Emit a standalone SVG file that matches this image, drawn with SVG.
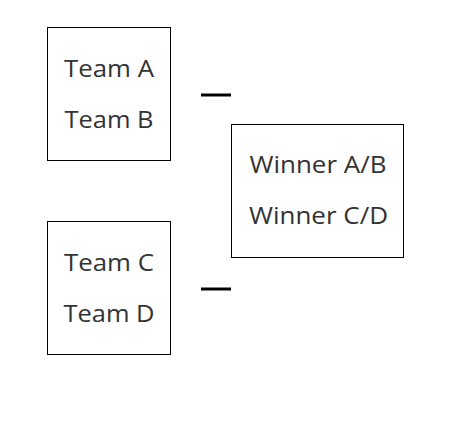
<svg xmlns="http://www.w3.org/2000/svg" width="449" height="423" viewBox="0 0 449 423">
<style>
.box{fill:#fff;stroke:#000;stroke-width:1}
.t{font-family:"Open Sans","Liberation Sans",sans-serif;font-size:23px;fill:#333;text-anchor:middle}
.c{stroke:#000;stroke-width:3;fill:none}
</style>
<rect width="449" height="423" fill="#fff"/>
<g id="match1">
<rect class="box" x="47.5" y="27.5" width="123" height="133"/>
<text class="t" x="109" y="77" textLength="90" lengthAdjust="spacingAndGlyphs">Team A</text>
<text class="t" x="109" y="128" textLength="89" lengthAdjust="spacingAndGlyphs">Team B</text>
</g>
<g id="match2">
<rect class="box" x="47.5" y="221.5" width="123" height="133"/>
<text class="t" x="109" y="271" textLength="90" lengthAdjust="spacingAndGlyphs">Team C</text>
<text class="t" x="109" y="322" textLength="91" lengthAdjust="spacingAndGlyphs">Team D</text>
</g>
<g id="final">
<rect class="box" x="231.5" y="124.5" width="172" height="133"/>
<text class="t" x="318" y="173" textLength="137" lengthAdjust="spacingAndGlyphs">Winner A/B</text>
<text class="t" x="318.5" y="224" textLength="139" lengthAdjust="spacingAndGlyphs">Winner C/D</text>
</g>
<g id="connectors">
<line class="c" x1="201" y1="95" x2="231" y2="95"/>
<line class="c" x1="201" y1="289" x2="231" y2="289"/>
</g>
</svg>
